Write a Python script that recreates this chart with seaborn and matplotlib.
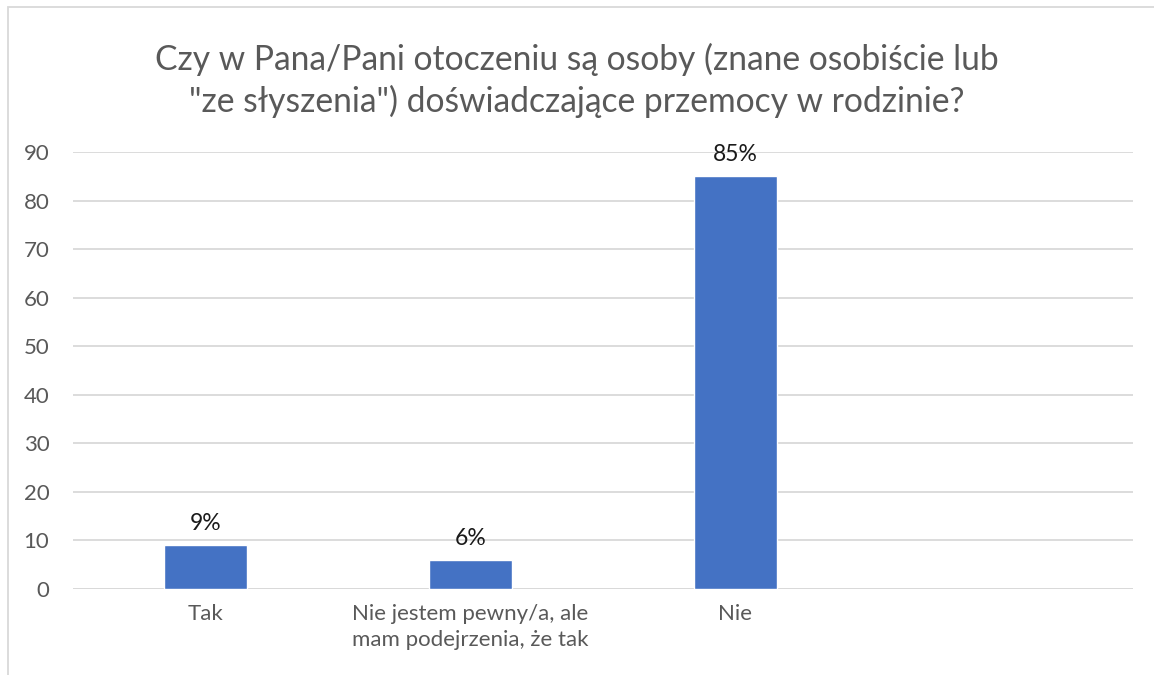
import pandas as pd
import matplotlib.pyplot as plt
import seaborn as sns
from matplotlib.patches import Rectangle

# Data
categories = ["Tak", "Nie jestem pewny/a, ale\nmam podejrzenia, że tak", "Nie"]
values = [9, 6, 85]
value_labels = ["9%", "6%", "85%"]
y_ticks = [0, 10, 20, 30, 40, 50, 60, 70, 80, 90]
title = 'Czy w Pana/Pani otoczeniu są osoby (znane osobiście lub\n"ze słyszenia") doświadczające przemocy w rodzinie?'

df = pd.DataFrame({"odpowiedz": categories, "procent": values})

sns.set_theme(style="white")
plt.rcParams['font.family'] = ['Lato', 'DejaVu Sans']

fig = plt.figure(figsize=(11.54, 6.75), dpi=100)
ax = fig.add_axes([73 / 1154, 86 / 675, 1060 / 1154, 437 / 675])

sns.barplot(data=df, x="odpowiedz", y="procent", color="#4472C4",
            width=0.31, saturation=1, ax=ax, zorder=3)

ax.set_xlim(-0.5, 3.5)
ax.set_ylim(0, 90)
ax.set_yticks(y_ticks)
ax.yaxis.grid(True, color="#D9D9D9", linewidth=1.3, zorder=0)
ax.set_axisbelow(True)
for s in ax.spines.values():
    s.set_visible(False)
ax.axhline(0, color="#D9D9D9", linewidth=1.3, zorder=1)

ax.set_xlabel("")
ax.set_ylabel("")
ax.tick_params(axis="y", labelsize=16, labelcolor="#595959", length=0, pad=17)
ax.tick_params(axis="x", labelsize=16, labelcolor="#595959", length=0, pad=11)
for lbl in ax.get_xticklabels():
    lbl.set_linespacing(1.35)

for i, (v, t) in enumerate(zip(values, value_labels)):
    ax.annotate(t, (i, v), xytext=(0, 8), textcoords="offset points",
                ha="center", va="bottom", fontsize=16.5, color="#1a1a1a")

fig.text(0.5, 0.881, title, ha="center", va="center", fontsize=24.2,
         color="#595959", linespacing=1.3)

# chart area border (cut off at right and bottom like the screenshot)
fig.patches.append(Rectangle((8 / 1154, -0.1), 1.2, 1.1 - 7 / 675,
                             transform=fig.transFigure, fill=False,
                             edgecolor="#D9D9D9", linewidth=1.3))

fig.savefig("out.png", dpi=100, facecolor="white")
